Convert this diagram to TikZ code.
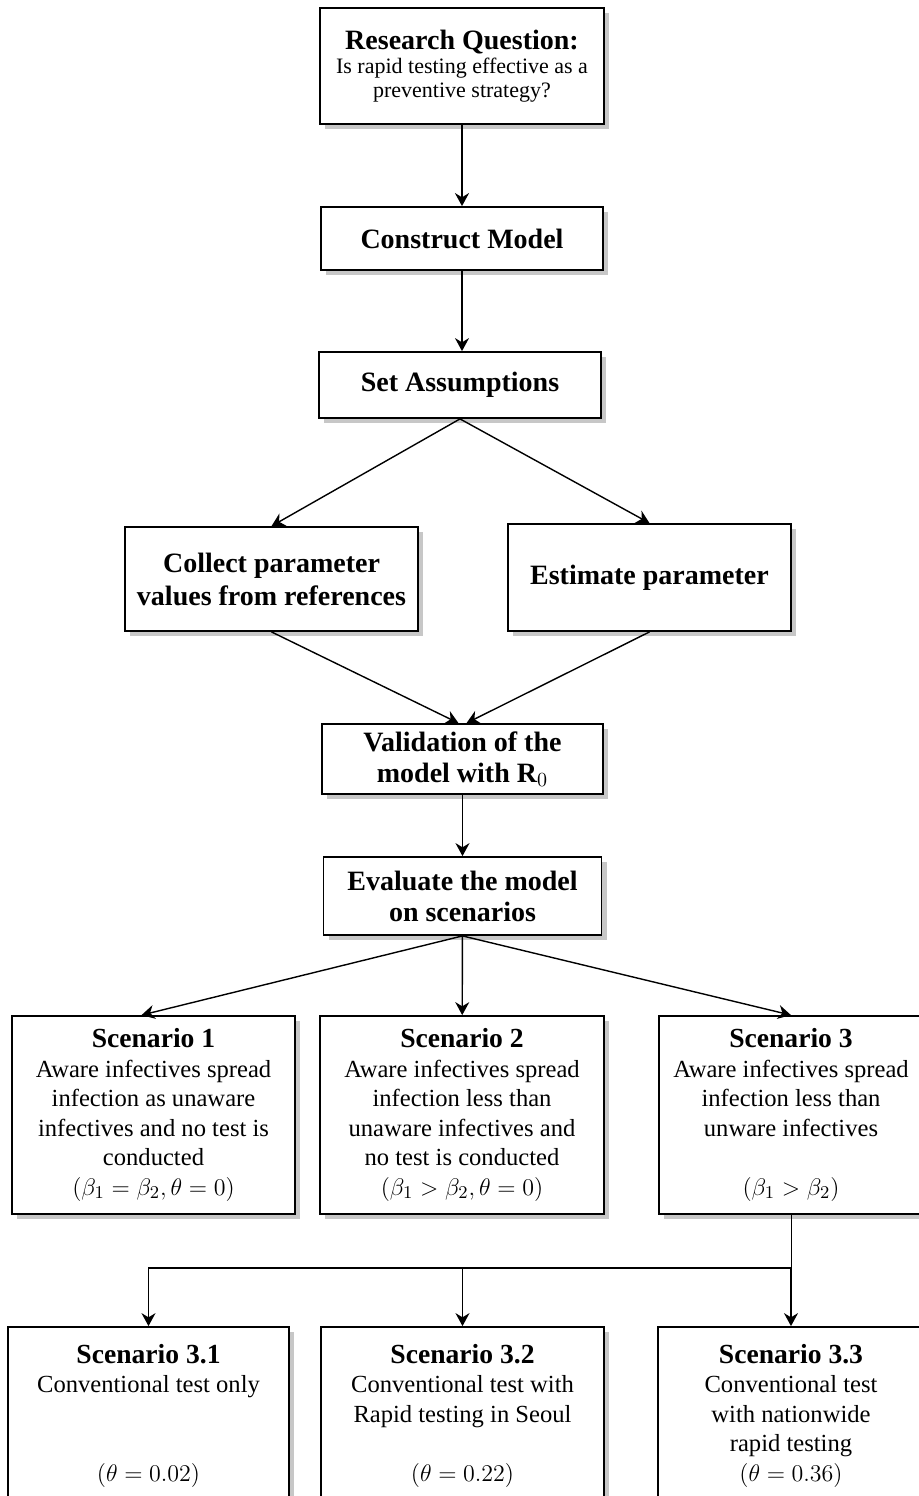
\documentclass[tikz,border=0pt]{standalone}
\usepackage{fontspec}
\setmainfont{Liberation Serif}
\usetikzlibrary{positioning,arrows.meta,shadows}
\tikzset{pbox/.style={draw,line width=0.9pt,fill=white,align=center,inner sep=2pt,
	 drop shadow={shadow xshift=2.5pt,shadow yshift=-2.5pt,fill=black!40,opacity=0.55},
	 font=\fontsize{14}{16.5}\selectfont\bfseries},
	 sbox/.style={pbox,font=\fontsize{12.3}{14.75}\selectfont},
	 arr/.style={-{Stealth[length=6.5pt,width=7pt]},line width=0.7pt}
	 }
\newcommand{\qfont}{\fontsize{11}{12}\selectfont\mdseries}
\newcommand{\stitle}[1]{\textbf{\fontsize{13.8}{15}\selectfont #1}}

\begin{document}
\begin{tikzpicture}[x=0.5pt,y=-0.5pt] % rapid testing study workflow
	\useasboundingbox (0,0) rectangle (919,1496);
	\node[pbox,minimum width=142pt,minimum height=58pt,font=\fontsize{14}{12}\selectfont\bfseries] (rq) at (462,66)
	 {Research Question:\\ {\qfont Is rapid testing effective as a}\\ {\qfont preventive strategy?}};
	\node[pbox,minimum width=141pt,minimum height=31.5pt] (cm) at (462,238.5) {Construct Model};
	\node[pbox,minimum width=141pt,minimum height=33pt] (sa) at (460,385) {Set Assumptions};
	\node[pbox,minimum width=146.5pt,minimum height=52pt] (cp) at (271.5,579) {Collect parameter\\ values from references};
	\node[pbox,minimum width=141.5pt,minimum height=53.5pt] (ep) at (649.5,577.5) {Estimate parameter};
	\node[pbox,minimum width=140.5pt,minimum height=35pt,font=\fontsize{14}{15.5}\selectfont\bfseries] (val) at (462.5,759)
	 {Validation of the\\ model with R$_0$};
	\node[pbox,minimum width=139pt,minimum height=39pt,font=\fontsize{14}{15.5}\selectfont\bfseries] (ev) at (462.5,896)
	 {Evaluate the model\\ on scenarios};
	% scenarios
	\node[sbox,minimum width=141.5pt,minimum height=99pt] (s1) at (153.5,1115)
	 {\stitle{Scenario 1}\\ Aware infectives spread\\ infection as unaware\\ infectives and no test is\\ conducted\\ $(\beta_1=\beta_2,\theta=0)$};
	\node[sbox,minimum width=142pt,minimum height=99pt] (s2) at (462,1115)
	 {\stitle{Scenario 2}\\ Aware infectives spread\\ infection less than\\ unaware infectives and\\ no test is conducted\\ $(\beta_1>\beta_2,\theta=0)$};
	\node[sbox,minimum width=132pt,minimum height=99pt] (s3) at (791,1115)
	 {\stitle{Scenario 3}\\ Aware infectives spread\\ infection less than\\ unware infectives\\ ~\\ $(\beta_1>\beta_2)$};
	\node[sbox,minimum width=140.5pt,minimum height=88.5pt] (s31) at (148.5,1415.5)
	 {\stitle{Scenario 3.1}\\ Conventional test only\\ ~\\ ~\\ $(\theta=0.02)$};
	\node[sbox,minimum width=141.5pt,minimum height=88.5pt] (s32) at (462.5,1415.5)
	 {\stitle{Scenario 3.2}\\ Conventional test with\\ Rapid testing in Seoul\\ ~\\ $(\theta=0.22)$};
	\node[sbox,minimum width=133pt,minimum height=88.5pt] (s33) at (791,1415.5)
	 {\stitle{Scenario 3.3}\\ Conventional test\\ with nationwide\\ rapid testing\\ $(\theta=0.36)$};
	\coordinate (br) at (791,1268);
	\draw[arr,line width=1.3pt] (rq) -- (cm);
	\draw[arr] (cm) -- (cm |- sa.north);
	\draw[arr] (sa.south) -- (cp.north);
	\draw[arr] (sa.south) -- (ep.north);
	\draw[arr] (cp.south) -- ([xshift=-2pt]val.north);
	\draw[arr] (ep.south) -- ([xshift=2pt]val.north);
	\draw[arr] (val) -- (ev);
	\draw[arr] (ev.south) -- ([xshift=-6pt]s1.north);
	\draw[arr] (ev) -- (s2);
	\draw[arr] (ev.south) -- (s3.north);
	\draw (s3.south) -- (br);
	\draw[arr] (br) -| (s31.north);
	\draw[arr] (s32.north |- br) -- (s32.north);
	\draw[arr] (br) -- (s33.north);
\end{tikzpicture}
\end{document}
